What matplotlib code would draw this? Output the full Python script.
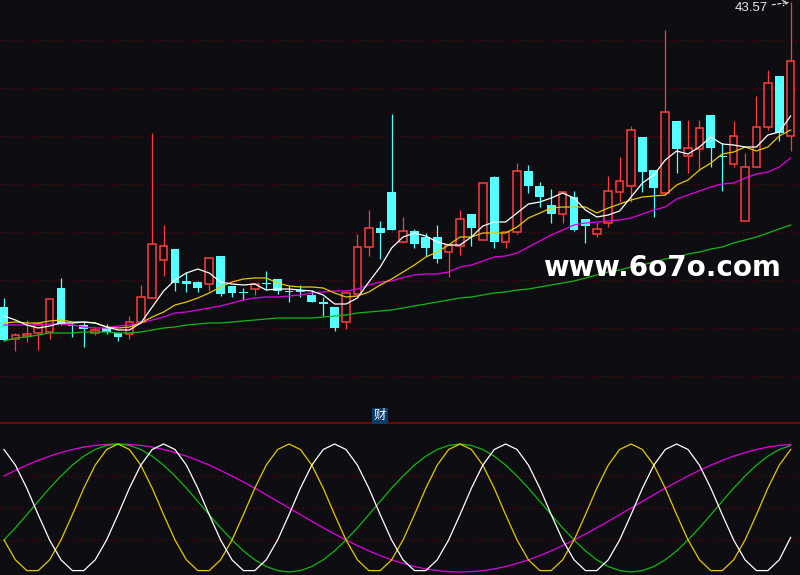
import matplotlib
matplotlib.use("Agg")
import matplotlib.pyplot as plt
import numpy as np

# ---------------- data ----------------
opens = [25.27, 23.35, 23.56, 23.71, 23.77, 26.41, 24.19, 24.19, 23.71, 24.01,
         23.71, 23.65, 24.37, 25.81, 28.09, 28.75, 26.83, 26.77, 26.65, 28.33,
         26.53, 26.17, 26.35, 26.71, 26.95, 26.23, 26.29, 25.99, 25.57, 25.27,
         24.37, 26.05, 28.87, 30.01, 32.17, 29.17, 29.83, 29.47, 29.47, 28.57,
         28.93, 30.85, 29.29, 33.07, 29.17, 29.77, 33.43, 32.53, 31.39, 30.85,
         31.87, 30.55, 29.65, 30.31, 32.17, 32.53, 35.47, 33.49, 32.11, 36.43,
         34.33, 34.75, 36.79, 34.30, 33.85, 30.43, 33.67, 36.07, 39.13, 35.53]
highs = [25.81, 23.71, 24.49, 24.37, 25.78, 27.01, 24.34, 24.37, 24.07, 24.25,
         23.77, 24.73, 26.59, 35.71, 30.19, 28.77, 27.37, 26.83, 28.23, 28.35,
         26.55, 26.41, 26.67, 27.43, 26.97, 26.53, 26.59, 26.29, 25.87, 25.29,
         26.13, 29.65, 31.09, 30.43, 36.85, 30.67, 29.95, 29.71, 30.19, 29.01,
         31.09, 30.87, 32.73, 33.13, 29.79, 33.91, 33.79, 32.77, 32.35, 32.19,
         32.23, 30.57, 30.37, 33.13, 34.27, 36.13, 35.49, 33.51, 41.89, 36.45,
         36.49, 36.49, 36.81, 35.11, 36.43, 34.51, 37.93, 39.49, 39.15, 43.57]
lows = [23.23, 22.63, 23.17, 22.69, 23.35, 24.19, 23.47, 22.87, 23.59, 23.65,
        23.23, 23.35, 24.35, 25.79, 27.13, 26.23, 26.17, 26.17, 26.23, 25.93,
        25.87, 25.69, 25.99, 26.29, 26.05, 25.57, 25.87, 25.55, 24.73, 23.83,
        23.95, 26.03, 28.33, 28.15, 29.87, 29.11, 28.81, 28.33, 27.91, 27.07,
        28.39, 28.93, 29.27, 28.81, 28.81, 29.65, 32.11, 31.27, 30.31, 30.31,
        29.83, 29.11, 29.47, 30.07, 31.57, 31.57, 32.17, 30.67, 31.99, 33.31,
        33.31, 33.49, 33.67, 32.23, 33.67, 30.41, 33.65, 35.89, 35.23, 34.63]
closes = [23.29, 23.59, 23.62, 24.25, 25.75, 24.25, 24.13, 23.95, 23.89, 23.77,
          23.47, 24.37, 25.87, 29.05, 28.93, 26.71, 26.65, 26.41, 28.21, 26.05,
          26.11, 26.11, 26.65, 26.65, 26.23, 26.17, 26.17, 25.57, 25.45, 24.01,
          26.11, 28.87, 30.01, 29.71, 29.89, 29.83, 29.05, 28.81, 28.15, 28.99,
          30.55, 30.01, 32.71, 29.17, 29.77, 33.43, 32.53, 31.87, 30.85, 32.17,
          29.89, 30.13, 29.95, 32.23, 32.83, 35.89, 33.37, 32.41, 36.97, 34.75,
          34.81, 36.01, 34.81, 34.24, 35.53, 33.67, 36.07, 38.71, 35.71, 40.03]

ma5 = [24.73, 24.49, 24.19, 24.01, 24.13, 24.31, 24.31, 24.37, 24.31, 24.07,
       23.89, 23.89, 24.31, 25.27, 26.23, 26.89, 27.31, 27.55, 27.31, 26.77,
       26.65, 26.59, 26.65, 26.29, 26.35, 26.35, 26.29, 26.23, 25.99, 25.45,
       25.45, 25.81, 26.77, 27.67, 28.81, 29.47, 29.71, 29.53, 29.17, 28.99,
       28.99, 29.47, 30.13, 30.37, 30.37, 30.91, 31.45, 31.57, 31.81, 32.11,
       31.81, 31.09, 30.67, 30.79, 31.03, 31.87, 32.71, 33.19, 34.09, 34.63,
       34.45, 34.87, 35.47, 35.05, 34.99, 34.87, 34.87, 35.59, 35.77, 36.73]
ma10 = [24.31, 24.37, 24.31, 24.31, 24.43, 24.49, 24.37, 24.37, 24.31, 24.07,
        24.01, 24.07, 24.31, 24.67, 24.97, 25.39, 25.57, 25.81, 26.11, 26.47,
        26.77, 26.95, 27.01, 27.01, 26.71, 26.53, 26.47, 26.47, 26.41, 26.11,
        25.87, 25.93, 26.17, 26.59, 26.95, 27.37, 27.79, 28.27, 28.57, 28.99,
        29.47, 29.47, 29.71, 29.71, 29.71, 30.07, 30.61, 30.91, 31.21, 31.27,
        31.27, 31.27, 30.91, 31.21, 31.45, 31.69, 31.87, 31.93, 31.99, 32.59,
        32.89, 33.49, 33.91, 34.45, 34.57, 34.87, 34.63, 34.87, 35.53, 35.89]
ma20 = [24.19, 24.19, 24.19, 24.19, 24.25, 24.25, 24.19, 24.07, 24.01, 24.01,
        24.13, 24.19, 24.31, 24.49, 24.67, 24.91, 24.97, 25.09, 25.21, 25.33,
        25.51, 25.69, 25.81, 25.87, 25.87, 25.93, 25.99, 26.11, 26.17, 26.23,
        26.23, 26.35, 26.59, 26.77, 26.83, 27.04, 27.19, 27.25, 27.25, 27.37,
        27.67, 27.79, 28.03, 28.27, 28.33, 28.51, 28.87, 29.23, 29.59, 29.89,
        30.19, 30.31, 30.37, 30.43, 30.49, 30.61, 30.85, 31.09, 31.27, 31.75,
        31.99, 32.23, 32.47, 32.65, 32.71, 33.01, 33.25, 33.37, 33.67, 34.21]
ma60 = [23.23, 23.41, 23.47, 23.59, 23.71, 23.71, 23.71, 23.77, 23.77, 23.77,
        23.71, 23.71, 23.77, 23.89, 24.01, 24.07, 24.19, 24.25, 24.31, 24.31,
        24.37, 24.43, 24.49, 24.55, 24.61, 24.61, 24.61, 24.61, 24.67, 24.73,
        24.79, 24.91, 24.97, 25.03, 25.09, 25.21, 25.33, 25.45, 25.57, 25.69,
        25.81, 25.87, 25.99, 26.11, 26.17, 26.29, 26.35, 26.47, 26.59, 26.71,
        26.83, 27.01, 27.19, 27.37, 27.49, 27.67, 27.79, 27.97, 28.15, 28.27,
        28.45, 28.57, 28.75, 28.87, 29.11, 29.29, 29.47, 29.71, 29.95, 30.19]

cyc_white = [95.7, 83.5, 65.5, 44.8, 25.0, 9.5, 1.1, 1.1, 9.5, 25.0, 44.8, 65.5, 83.5, 95.7, 100.0,
             95.7, 83.5, 65.5, 44.8, 25.0, 9.5, 1.1, 1.1, 9.5, 25.0, 44.8, 65.5, 83.5, 95.7, 100.0,
             95.7, 83.5, 65.5, 44.8, 25.0, 9.5, 1.1, 1.1, 9.5, 25.0, 44.8, 65.5, 83.5, 95.7, 100.0,
             95.7, 83.5, 65.5, 44.8, 25.0, 9.5, 1.1, 1.1, 9.5, 25.0, 44.8, 65.5, 83.5, 95.7, 100.0,
             95.7, 83.5, 65.5, 44.8, 25.0, 9.5, 1.1, 1.1, 9.5, 27.0]
cyc_yellow = [25.0, 9.5, 1.1, 1.1, 9.5, 25.0, 44.8, 65.5, 83.5, 95.7, 100.0, 95.7, 83.5, 65.5, 44.8,
              25.0, 9.5, 1.1, 1.1, 9.5, 25.0, 44.8, 65.5, 83.5, 95.7, 100.0, 95.7, 83.5, 65.5, 44.8,
              25.0, 9.5, 1.1, 1.1, 9.5, 25.0, 44.8, 65.5, 83.5, 95.7, 100.0, 95.7, 83.5, 65.5, 44.8,
              25.0, 9.5, 1.1, 1.1, 9.5, 25.0, 44.8, 65.5, 83.5, 95.7, 100.0, 95.7, 83.5, 65.5, 44.8,
              25.0, 9.5, 1.1, 1.1, 9.5, 25.0, 44.8, 65.5, 83.5, 95.7]
cyc_green = [25.0, 34.5, 44.8, 55.2, 65.5, 75.0, 83.5, 90.5, 95.7, 98.9,
             100.0, 98.9, 95.7, 90.5, 83.5, 75.0, 65.5, 55.2, 44.8, 34.5,
             25.0, 16.5, 9.5, 4.3, 1.1, 0.0, 1.1, 4.3, 9.5, 16.5,
             25.0, 34.5, 44.8, 55.2, 65.5, 75.0, 83.5, 90.5, 95.7, 98.9,
             100.0, 98.9, 95.7, 90.5, 83.5, 75.0, 65.5, 55.2, 44.8, 34.5,
             25.0, 16.5, 9.5, 4.3, 1.1, 0.0, 1.1, 4.3, 9.5, 16.5,
             25.0, 34.5, 44.8, 55.2, 65.5, 75.0, 83.5, 90.5, 95.7, 98.9]
cyc_magenta = [75.0, 79.4, 83.5, 87.2, 90.5, 93.3, 95.7, 97.6, 98.9, 99.7,
               100.0, 99.7, 98.9, 97.6, 95.7, 93.3, 90.5, 87.2, 83.5, 79.4,
               75.0, 70.3, 65.5, 60.4, 55.2, 50.0, 44.8, 39.6, 34.5, 29.7,
               25.0, 20.6, 16.5, 12.8, 9.5, 6.7, 4.3, 2.4, 1.1, 0.3,
               0.0, 0.3, 1.1, 2.4, 4.3, 6.7, 9.5, 12.8, 16.5, 20.6,
               25.0, 29.7, 34.5, 39.6, 44.8, 50.0, 55.2, 60.4, 65.5, 70.3,
               75.0, 79.4, 83.5, 87.2, 90.5, 93.3, 95.7, 97.6, 98.9, 99.7]

max_label = "43.57"
tab_label = "财"
watermark = "www.6o7o.com"

# ---------------- styling ----------------
BG = "#0e0e12"
RED = "#ff3c3c"
CYAN = "#54ffff"
GRID = "#800000"
C_WHITE = "#ffffff"
C_YELLOW = "#e6c800"
C_MAG = "#e600e6"
C_GREEN = "#14b814"

W, H = 800, 575
fig = plt.figure(figsize=(W / 100, H / 100), dpi=100, facecolor=BG)
split = 423  # pixel row of separator (from top)
ax = fig.add_axes([0, (H - split) / H, 1, split / H], facecolor=BG)
ax2 = fig.add_axes([0, 0, 1, (H - split) / H], facecolor=BG)

x = np.arange(len(opens))
XL = (-0.35, 69.82)
for a in (ax, ax2):
    a.set_xlim(*XL)
    a.set_xticks([])
    a.set_yticks([])
    for s in a.spines.values():
        s.set_visible(False)

# price axis: 0.06 per pixel, 43.69 at top
ax.set_ylim(43.69 - 0.06 * split, 43.69)
for k in range(8):
    ypx = 40 + 48 * k
    ax.axhline(43.69 - 0.06 * ypx, color=GRID, lw=0.8, linestyle=(0, (1, 3)), zorder=0)

o = np.array(opens); c = np.array(closes); hi = np.array(highs); lo = np.array(lows)
up = c >= o
dn = ~up

# down candles: full wick + filled body
ax.vlines(x[dn], lo[dn], hi[dn], color=CYAN, lw=0.9, zorder=2)
hgt = np.maximum(o[dn] - c[dn], 0.07)
ax.bar(x[dn], hgt, bottom=c[dn], width=0.78, color=CYAN, edgecolor="none", zorder=3)

# up candles: hollow body, wicks outside body
ax.vlines(x[up], c[up], hi[up], color=RED, lw=0.9, zorder=2)
ax.vlines(x[up], lo[up], o[up], color=RED, lw=0.9, zorder=2)
hgt_u = np.maximum(c[up] - o[up], 0.05)
ax.bar(x[up], hgt_u, bottom=o[up], width=0.66, fill=False, edgecolor=RED, lw=1.1, zorder=3)

# moving averages
ax.plot(x, ma60, color=C_GREEN, lw=0.9, zorder=4)
ax.plot(x, ma20, color=C_MAG, lw=0.9, zorder=4)
ax.plot(x, ma10, color=C_YELLOW, lw=0.9, zorder=4)
ax.plot(x, ma5, color=C_WHITE, lw=0.9, zorder=5)

# max price annotation
ax.annotate(max_label, xy=(x[-1], highs[-1]), xycoords="data",
            xytext=(768, H - 8), textcoords="figure pixels",
            ha="right", va="center", color="#e8e8e8", fontsize=9.5,
            family="Liberation Sans",
            arrowprops=dict(arrowstyle="->", color="#e8e8e8", lw=0.8,
                            linestyle=(0, (3, 2)), shrinkA=1, shrinkB=1))

# watermark
fig.text(543 / W, 1 - 276 / H, watermark, ha="left", va="baseline",
         color="white", fontsize=20, fontweight="bold", family="DejaVu Sans", zorder=10)

# lower panel
ax2.set_ylim(-(575 - 572) / 1.28, (572 - split) / 1.28)
ax2.spines["top"].set_visible(True)
ax2.spines["top"].set_color("#8b0000")
ax2.spines["top"].set_linewidth(1.2)
for v in (25, 50, 75):
    ax2.axhline(v, color=GRID, lw=0.8, linestyle=(0, (1, 3)), zorder=0)
ax2.plot(x, cyc_magenta, color=C_MAG, lw=0.9)
ax2.plot(x, cyc_green, color=C_GREEN, lw=0.9)
ax2.plot(x, cyc_yellow, color=C_YELLOW, lw=0.9)
ax2.plot(x, cyc_white, color=C_WHITE, lw=0.9)

fig.text(380 / W, 1 - 415.5 / H, tab_label, ha="center", va="center", color="white",
         fontsize=9, family=["Noto Sans CJK SC", "DejaVu Sans"],
         bbox=dict(boxstyle="square,pad=0.12", fc="#0c3c6c", ec="none"))

fig.savefig("out.png", dpi=100, facecolor=BG)
